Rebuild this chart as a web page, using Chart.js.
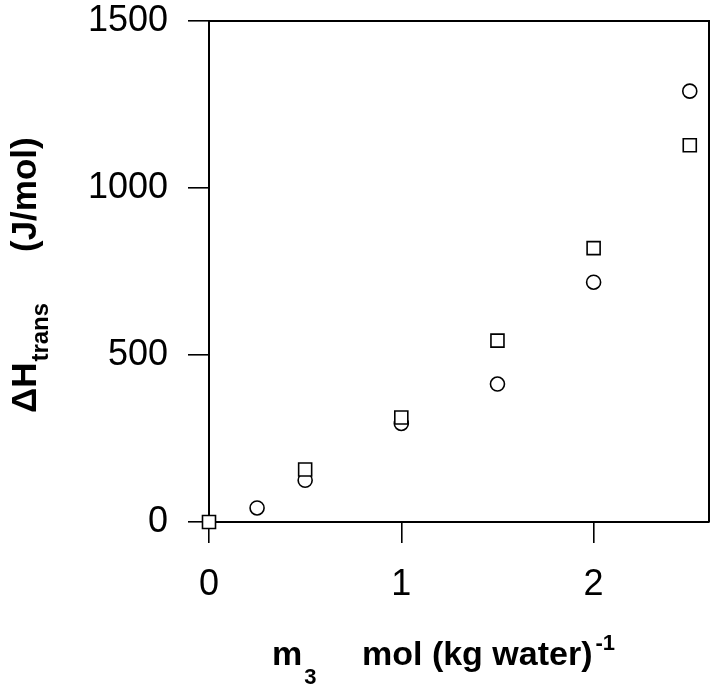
<!DOCTYPE html>
<html>
<head>
<meta charset="utf-8">
<script src="https://cdn.jsdelivr.net/npm/chart.js@4"></script>
<style>
  html, body { margin: 0; padding: 0; background: #fff; }
  #wrap { width: 720px; height: 688px; }
</style>
</head>
<body>
<div id="wrap"><canvas id="chart" width="720" height="688"></canvas></div>
<script>
// Data
const circleX = [0.25, 0.5, 1, 1.5, 2, 2.5];
const circleY = [42, 125, 295, 413, 718, 1290];
const squareX = [0, 0.5, 1, 1.5, 2, 2.5];
const squareY = [0, 157, 313, 543, 820, 1128];
const xTicks = [0, 1, 2];
const yTicks = [0, 500, 1000, 1500];

const FONT = '"Liberation Sans", Arial, sans-serif';

const toPoints = (xs, ys) => xs.map((x, i) => ({ x: x, y: ys[i] }));

// white background, closed frame and the two axis titles with sub/superscripts
const decor = {
  id: 'decor',
  beforeDraw(chart) {
    const c = chart.ctx;
    c.save();
    c.fillStyle = '#fff';
    c.fillRect(0, 0, chart.width, chart.height);
    c.restore();
  },
  beforeDatasetsDraw(chart) {
    const a = chart.chartArea;
    const c = chart.ctx;
    c.save();
    c.strokeStyle = '#000';
    c.lineWidth = 2;
    c.beginPath();
    c.moveTo(a.left, a.top);
    c.lineTo(a.right, a.top);
    c.lineTo(a.right, a.bottom);
    c.stroke();
    c.restore();
  },
  afterDraw(chart) {
    const c = chart.ctx;
    c.save();
    c.fillStyle = '#000';
    c.textAlign = 'left';
    c.textBaseline = 'alphabetic';

    // x title
    let x = 272, y = 665;
    c.font = 'bold 34px ' + FONT;
    c.fillText('m', x, y);
    x += c.measureText('m').width + 2;
    c.font = 'bold 22px ' + FONT;
    c.fillText('3', x, y + 19);
    c.font = 'bold 34px ' + FONT;
    x = 362;
    c.fillText('mol (kg water)', x, y);
    x += c.measureText('mol (kg water)').width + 3;
    c.font = 'bold 22px ' + FONT;
    c.fillText('-1', x, y - 15);

    // y title (rotated)
    c.translate(36, 413);
    c.rotate(-Math.PI / 2);
    c.font = 'bold 35px ' + FONT;
    c.fillText('\u0394H', 0, 0);
    const w = c.measureText('\u0394H').width;
    c.font = 'bold 24px ' + FONT;
    c.fillText('trans', w + 1, 12);
    c.font = 'bold 35px ' + FONT;
    c.fillText('(J/mol)', 161, 0);
    c.restore();
  }
};

const axisCommon = {
  type: 'linear',
  border: { display: true, color: '#000', width: 2 },
  grid: {
    display: true,
    drawOnChartArea: false,
    drawTicks: true,
    tickLength: 21,
    color: '#000',
    lineWidth: 1.6
  }
};

new Chart(document.getElementById('chart').getContext('2d'), {
  type: 'scatter',
  data: {
    datasets: [
      {
        label: 'squares',
        data: toPoints(squareX, squareY),
        pointStyle: 'rect',
        pointRadius: 9.2,
        pointBorderWidth: 1.6,
        pointBorderColor: '#000',
        pointBackgroundColor: '#fff',
        showLine: false,
        clip: false
      },
      {
        label: 'circles',
        data: toPoints(circleX, circleY),
        pointStyle: 'circle',
        pointRadius: 7,
        pointBorderWidth: 1.6,
        pointBorderColor: '#000',
        pointBackgroundColor: '#fff',
        showLine: false,
        clip: false
      }
    ]
  },
  options: {
    responsive: false,
    animation: false,
    events: [],
    layout: { padding: { top: 21, right: 11, left: 0, bottom: 0 } },
    plugins: {
      legend: { display: false },
      tooltip: { enabled: false }
    },
    scales: {
      x: {
        ...axisCommon,
        position: 'bottom',
        min: 0,
        max: 2.6,
        afterBuildTicks: s => { s.ticks = xTicks.map(v => ({ value: v })); },
        afterFit: s => { s.height = 166; s.paddingLeft = 0; s.paddingRight = 0; },
        ticks: {
          padding: 20,
          color: '#000',
          font: { family: FONT, size: 36 },
          maxRotation: 0,
          callback: v => String(v)
        }
      },
      y: {
        ...axisCommon,
        position: 'left',
        min: 0,
        max: 1500,
        afterBuildTicks: s => { s.ticks = yTicks.map(v => ({ value: v })); },
        afterFit: s => { s.width = 209; s.paddingTop = 0; s.paddingBottom = 0; },
        ticks: {
          padding: 20,
          color: '#000',
          font: { family: FONT, size: 36 },
          callback: v => String(v)
        }
      }
    }
  },
  plugins: [decor]
});
</script>
</body>
</html>
